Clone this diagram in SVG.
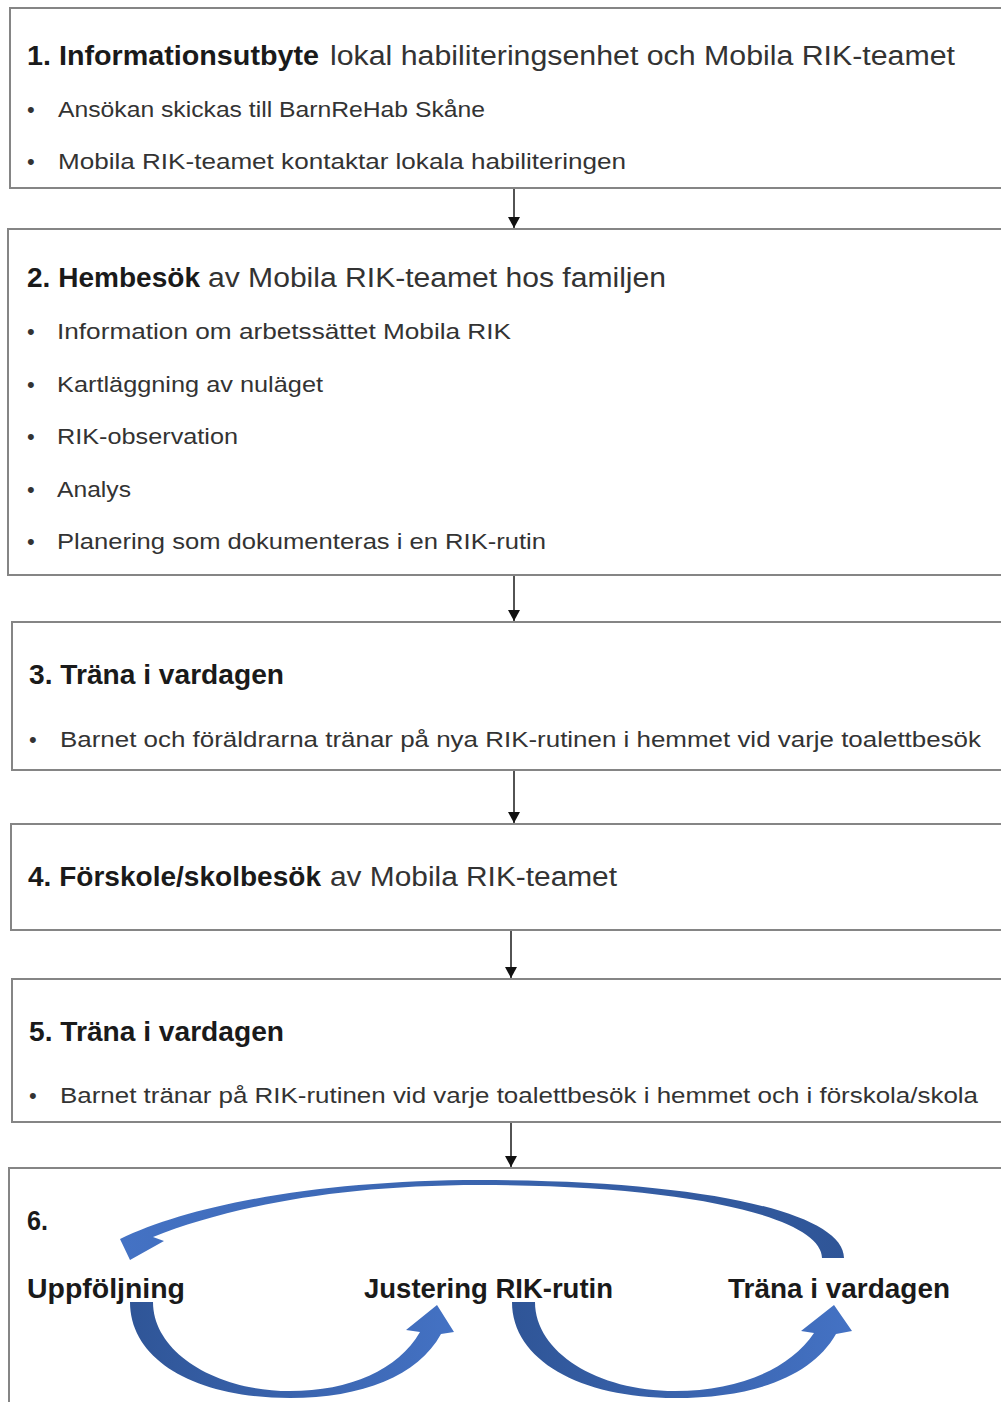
<svg xmlns="http://www.w3.org/2000/svg" width="1001" height="1402" viewBox="0 0 1001 1402">
<style>
.box{fill:#fff;stroke:#858585;stroke-width:2}
.t{font-family:"Liberation Sans",Arial,sans-serif;font-size:27px;font-weight:bold;fill:#1a1a1a}
.tn{font-family:"Liberation Sans",Arial,sans-serif;font-size:27px;fill:#333}
.b{font-family:"Liberation Sans",Arial,sans-serif;font-size:22px;fill:#333}
.conn{stroke:#1a1a1a;stroke-width:1.5;fill:none;marker-end:url(#ah)}
.curve{fill:url(#blue)}
</style>
<defs>
<marker id="ah" markerWidth="11" markerHeight="12" refX="11" refY="6" orient="auto" markerUnits="userSpaceOnUse">
<path d="M0,0 L11,6 L0,12 z" fill="#111"/>
</marker>
<linearGradient id="blue" x1="0" y1="0" x2="1" y2="0">
<stop offset="0" stop-color="#2f5597"/>
<stop offset="1" stop-color="#4472c4"/>
</linearGradient>
<linearGradient id="blueR" x1="1" y1="0" x2="0" y2="0">
<stop offset="0" stop-color="#2f5597"/>
<stop offset="1" stop-color="#4472c4"/>
</linearGradient>
</defs>

<g id="connectors">
<line class="conn" x1="514" y1="189" x2="514" y2="228"/>
<line class="conn" x1="514" y1="576" x2="514" y2="621"/>
<line class="conn" x1="514" y1="771" x2="514" y2="823"/>
<line class="conn" x1="511" y1="931" x2="511" y2="978"/>
<line class="conn" x1="511" y1="1123" x2="511" y2="1167"/>
</g>

<g id="node1">
<rect class="box" x="10" y="8" width="1010" height="180"/>
<text class="t" x="27" y="65" textLength="292" lengthAdjust="spacingAndGlyphs">1. Informationsutbyte</text>
<text class="tn" x="330" y="65" textLength="625" lengthAdjust="spacingAndGlyphs">lokal habiliteringsenhet och Mobila RIK-teamet</text>
<text class="b" x="27" y="117">•</text>
<text class="b" x="58" y="117" textLength="427" lengthAdjust="spacingAndGlyphs">Ansökan skickas till BarnReHab Skåne</text>
<text class="b" x="27" y="169">•</text>
<text class="b" x="58" y="169" textLength="568" lengthAdjust="spacingAndGlyphs">Mobila RIK-teamet kontaktar lokala habiliteringen</text>
</g>

<g id="node2">
<rect class="box" x="8" y="229" width="1010" height="346"/>
<text class="t" x="27" y="287" textLength="173" lengthAdjust="spacingAndGlyphs">2. Hembesök</text>
<text class="tn" x="208" y="287" textLength="458" lengthAdjust="spacingAndGlyphs">av Mobila RIK-teamet hos familjen</text>
<text class="b" x="27" y="339">•</text>
<text class="b" x="57" y="339" textLength="454" lengthAdjust="spacingAndGlyphs">Information om arbetssättet Mobila RIK</text>
<text class="b" x="27" y="392">•</text>
<text class="b" x="57" y="392" textLength="266" lengthAdjust="spacingAndGlyphs">Kartläggning av nuläget</text>
<text class="b" x="27" y="444">•</text>
<text class="b" x="57" y="444" textLength="181" lengthAdjust="spacingAndGlyphs">RIK-observation</text>
<text class="b" x="27" y="497">•</text>
<text class="b" x="57" y="497" textLength="74" lengthAdjust="spacingAndGlyphs">Analys</text>
<text class="b" x="27" y="549">•</text>
<text class="b" x="57" y="549" textLength="489" lengthAdjust="spacingAndGlyphs">Planering som dokumenteras i en RIK-rutin</text>
</g>

<g id="node3">
<rect class="box" x="12" y="622" width="1010" height="148"/>
<text class="t" x="29" y="684" textLength="255" lengthAdjust="spacingAndGlyphs">3. Träna i vardagen</text>
<text class="b" x="29" y="747">•</text>
<text class="b" x="60" y="747" textLength="921" lengthAdjust="spacingAndGlyphs">Barnet och föräldrarna tränar på nya RIK-rutinen i hemmet vid varje toalettbesök</text>
</g>

<g id="node4">
<rect class="box" x="11" y="824" width="1010" height="106"/>
<text class="t" x="28" y="886" textLength="293" lengthAdjust="spacingAndGlyphs">4. Förskole/skolbesök</text>
<text class="tn" x="330" y="886" textLength="287" lengthAdjust="spacingAndGlyphs">av Mobila RIK-teamet</text>
</g>

<g id="node5">
<rect class="box" x="12" y="979" width="1010" height="143"/>
<text class="t" x="29" y="1041" textLength="255" lengthAdjust="spacingAndGlyphs">5. Träna i vardagen</text>
<text class="b" x="29" y="1103">•</text>
<text class="b" x="60" y="1103" textLength="918" lengthAdjust="spacingAndGlyphs">Barnet tränar på RIK-rutinen vid varje toalettbesök i hemmet och i förskola/skola</text>
</g>

<g id="node6">
<rect class="box" x="9" y="1168" width="1010" height="260"/>
<text class="t" x="27" y="1230" textLength="21" lengthAdjust="spacingAndGlyphs">6.</text>
<text class="t" x="27" y="1298" textLength="158" lengthAdjust="spacingAndGlyphs">Uppföljning</text>
<text class="t" x="364" y="1298" textLength="249" lengthAdjust="spacingAndGlyphs">Justering RIK-rutin</text>
<text class="t" x="728" y="1298" textLength="222" lengthAdjust="spacingAndGlyphs">Träna i vardagen</text>
<path class="curve" style="fill:url(#blueR)" d="M822,1258 L844,1258 C844,1212 700,1180 480,1180 C320,1180 190,1205 120,1239 L130,1260 L164,1241 L153,1237 C225,1208 335,1185 480,1185 C690,1185 822,1218 822,1258 Z"/>
<path class="curve" d="M130,1302 L153,1302 C153,1352 215,1391 290,1391 C350,1391 398,1370 420,1332 L406,1330 L437,1305 L454,1332 L441,1334 C418,1376 362,1398 290,1398 C195,1398 130,1360 130,1302 Z"/>
<path class="curve" d="M512,1302 L535,1302 C535,1352 597,1391 675,1391 C737,1391 789,1370 814,1333 L801,1331 L834,1305 L852,1331 L836,1334 C812,1376 755,1398 675,1398 C580,1398 512,1360 512,1302 Z"/>
</g>
</svg>
